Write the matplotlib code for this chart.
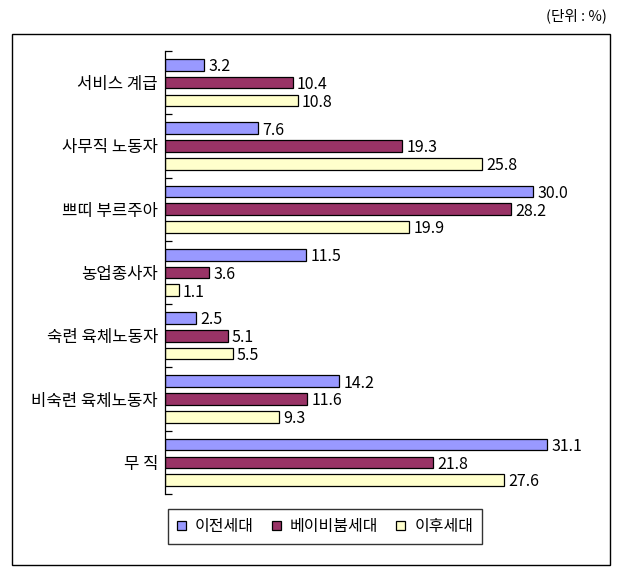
import matplotlib
matplotlib.use("Agg")
import matplotlib.pyplot as plt
import numpy as np
from matplotlib.patches import Rectangle

plt.rcParams['font.family'] = ['Noto Sans CJK KR', 'DejaVu Sans']

categories = ["서비스 계급", "사무직 노동자", "쁘띠 부르주아", "농업종사자",
              "숙련 육체노동자", "비숙련 육체노동자", "무 직"]
series_names = ["이전세대", "베이비붐세대", "이후세대"]
prev_gen = [3.2, 7.6, 30.0, 11.5, 2.5, 14.2, 31.1]
boom_gen = [10.4, 19.3, 28.2, 3.6, 5.1, 11.6, 21.8]
after_gen = [10.8, 25.8, 19.9, 1.1, 5.5, 9.3, 27.6]
colors = ["#9999FF", "#993366", "#FFFFCC"]

fig = plt.figure(figsize=(6.25, 5.78), dpi=100)
W, H = 625, 578

# outer frame
fig.patches.append(Rectangle((12 / W, 1 - 565 / H), (610 - 12) / W, (565 - 34) / H,
                             transform=fig.transFigure, fill=False,
                             edgecolor="black", linewidth=1.0))
fig.text(607 / W, 1 - 16 / H, "(단위 : %)", ha="right", va="center", fontsize=10.5)

left, right = 165, 596
top, bottom = 51, 494
ax = fig.add_axes([left / W, 1 - bottom / H, (right - left) / W, (bottom - top) / H])
xmax = (right - left) / 12.28
ax.set_xlim(0, xmax)
n = len(categories)
ax.set_ylim(n, 0)

pitch = 0.28
h = 0.185
y = np.arange(n) + 0.5
for i, (vals, c, name) in enumerate(zip([prev_gen, boom_gen, after_gen], colors, series_names)):
    yy = y + (i - 1) * pitch
    bars = ax.barh(yy, vals, height=h, color=c, edgecolor="black", linewidth=0.9, label=name)
    for b, v in zip(bars, vals):
        ax.text(v + 0.35, b.get_y() + b.get_height() / 2 + 0.03, f"{v:.1f}",
                ha="left", va="center", fontsize=11.5)

for s in ["top", "right", "bottom"]:
    ax.spines[s].set_visible(False)
ax.spines["left"].set_linewidth(0.9)
ax.set_xticks([])
ax.set_yticks(np.arange(n + 1))
ax.set_yticklabels([])
ax.set_yticks(y, minor=True)
ax.set_yticklabels(categories, minor=True, fontsize=12)
ax.tick_params(axis="y", which="major", direction="in", length=5, width=0.9)
ax.tick_params(axis="y", which="minor", length=0, pad=5)
ax.patch.set_alpha(0)

leg = ax.legend(loc="lower left", bbox_to_anchor=((168 - left) / (right - left), -(544 - bottom) / (bottom - top)),
                ncol=3, fontsize=11.5, frameon=True, fancybox=False, edgecolor="black",
                handlelength=0.55, handleheight=0.55, handletextpad=0.6, columnspacing=1.1,
                borderpad=0.55, borderaxespad=0)
leg.get_frame().set_linewidth(1.0)

fig.savefig("out.png", dpi=100)
